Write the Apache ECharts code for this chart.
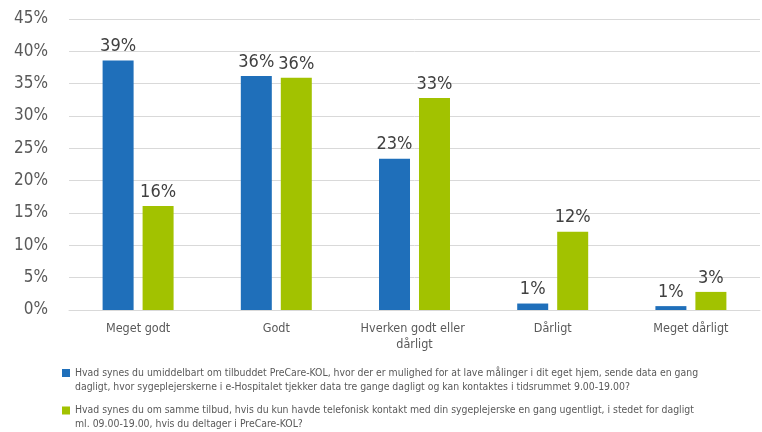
<!DOCTYPE html>
<html><head><meta charset="utf-8">
<script src="https://cdn.jsdelivr.net/npm/echarts@6/dist/echarts.min.js"></script>
<style>html,body{margin:0;padding:0;background:#fff}#c{width:762px;height:432px}</style>
</head><body><div id="c"></div>
<script>
const categories = ['Meget godt', 'Godt', 'Hverken godt eller dårligt', 'Dårligt', 'Meget dårligt'];
const seriesNames = [
  'Hvad synes du umiddelbart om tilbuddet PreCare-KOL, hvor der er mulighed for at lave målinger i dit eget hjem, sende data en gang dagligt, hvor sygeplejerskerne i e-Hospitalet tjekker data tre gange dagligt og kan kontaktes i tidsrummet 9.00-19.00?',
  'Hvad synes du om samme tilbud, hvis du kun havde telefonisk kontakt med din sygeplejerske en gang ugentligt, i stedet for dagligt ml. 09.00-19.00, hvis du deltager i PreCare-KOL?'
];
const legendBreakAfter = ['en gang', 'for dagligt'];
const blueValues = [0.386, 0.362, 0.234, 0.010, 0.006];
const greenValues = [0.161, 0.359, 0.328, 0.121, 0.028];
const colors = ['#1F6FBA', '#A2C200'];
const font = '"DejaVu Sans Condensed", Roboto, sans-serif';

const chart = echarts.init(document.getElementById('c'), null, {renderer: 'canvas'});
const pct = v => Math.round(v * 100) + '%';
const iconPath = 'path://M0 0h8v8h-8z M0 21.99h0.01v0.01h-0.01z';
function legendFor(i, top) {
  return {
    data: [seriesNames[i]], orient: 'vertical', left: 62, top: top, padding: 0,
    itemWidth: 8, itemHeight: 22, icon: iconPath, itemGap: 0,
    formatter: n => {
      const k = n.indexOf(legendBreakAfter[i]) + legendBreakAfter[i].length;
      return n.slice(0, k) + '\n' + n.slice(k).trim();
    },
    textStyle: {color: '#595959', fontSize: 10.4, fontFamily: font, lineHeight: 14}
  };
}
chart.setOption({
  animation: false,
  grid: {left: 69, right: 2, top: 19, bottom: 122},
  legend: [legendFor(0, 366), legendFor(1, 403.5)],
  xAxis: {
    type: 'category', data: categories,
    axisLine: {lineStyle: {color: '#D9D9D9'}}, axisTick: {show: false},
    axisLabel: {color: '#595959', fontSize: 12.5, fontFamily: font, margin: 11, width: 115, overflow: 'break', interval: 0, lineHeight: 16}
  },
  yAxis: {
    type: 'value', min: 0, max: 0.45, interval: 0.05,
    axisLabel: {color: '#595959', fontSize: 17, fontFamily: font, margin: 21, formatter: pct},
    splitLine: {lineStyle: {color: '#D9D9D9'}}
  },
  series: [
    {name: seriesNames[0], type: 'bar', data: blueValues, barWidth: 31, barGap: '29%', itemStyle: {color: colors[0]},
     label: {show: true, position: 'top', color: '#404040', fontSize: 18, fontFamily: font, formatter: p => pct(p.value)}},
    {name: seriesNames[1], type: 'bar', data: greenValues, barWidth: 31, barGap: '29%', itemStyle: {color: colors[1]},
     label: {show: true, position: 'top', color: '#404040', fontSize: 18, fontFamily: font, formatter: p => pct(p.value)}}
  ]
});
</script></body></html>
